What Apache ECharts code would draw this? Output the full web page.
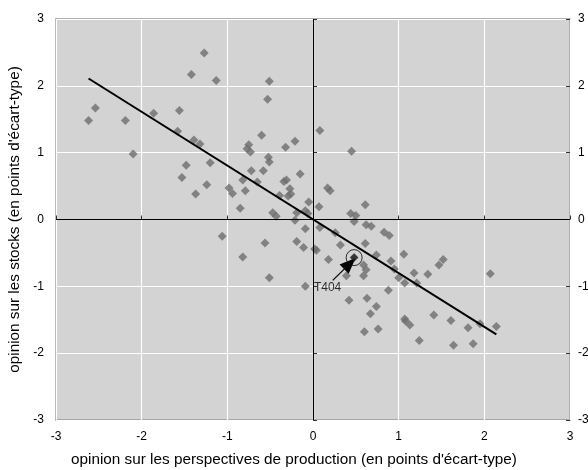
<!DOCTYPE html>
<html>
<head>
<meta charset="utf-8">
<script src="https://cdn.jsdelivr.net/npm/echarts@6/dist/echarts.min.js"></script>
<style>
html,body{margin:0;padding:0;background:#fff;}
#c{width:588px;height:470px;}
</style>
</head>
<body>
<div id="c"></div>
<script>
// Production outlook (x) vs stocks opinion (y), in standard-deviation points
const pointsX = [-2.62,-2.54,-2.19,-2.10,-1.86,-1.56,-1.58,-1.48,-1.53,-1.27,-1.42,-1.13,-0.51,-0.53,-1.39,-1.32,-0.60,-0.21,-0.32,-0.75,-0.77,-0.73,-0.52,-0.51,-1.20,-0.72,-0.58,0.08,-1.24,-1.37,-0.98,-0.94,-0.82,-0.65,-0.79,-0.85,-0.34,-0.31,-0.27,-0.39,-0.29,-0.26,-0.15,-0.05,-0.47,-0.43,-0.09,-0.06,-0.19,0.07,-0.21,-0.09,-1.06,-0.56,-0.19,-0.11,0.02,0.04,-0.82,-0.51,-0.09,0.45,0.17,0.20,0.61,0.44,0.50,0.48,0.62,0.68,0.08,0.26,0.83,0.89,0.32,0.18,0.61,0.48,0.59,0.62,0.59,0.39,0.74,0.91,0.95,1.00,1.06,1.07,0.88,1.18,1.21,1.34,1.47,1.52,2.07,0.42,0.63,0.74,0.67,0.76,0.60,1.07,1.08,1.13,1.24,1.41,1.61,1.81,1.95,2.14,1.64,1.87];
const pointsY = [1.48,1.67,1.48,0.98,1.59,1.63,1.32,0.81,0.63,2.49,2.17,2.08,2.07,1.80,1.19,1.13,1.26,1.17,1.08,1.12,1.06,1.01,0.93,0.86,0.85,0.73,0.73,1.33,0.52,0.38,0.47,0.39,0.59,0.56,0.43,0.17,0.57,0.59,0.46,0.36,0.35,0.38,0.68,0.26,0.10,0.05,0.13,0.09,0.10,0.19,-0.01,-0.14,-0.25,-0.35,-0.33,-0.42,-0.44,-0.46,-0.56,-0.87,-1.00,1.02,0.47,0.43,0.22,0.09,0.06,-0.03,-0.08,-0.10,-0.12,-0.20,-0.19,-0.24,-0.38,-0.60,-0.36,-0.57,-0.68,-0.75,-0.84,-0.84,-0.53,-0.62,-0.74,-0.87,-0.52,-0.95,-1.06,-0.80,-0.95,-0.82,-0.68,-0.60,-0.81,-1.21,-1.18,-1.30,-1.41,-1.64,-1.68,-1.49,-1.52,-1.58,-1.81,-1.43,-1.51,-1.62,-1.56,-1.60,-1.88,-1.86];
// Regression line end points
const fitX = [-2.62, 2.14];
const fitY = [2.11, -1.72];
// Highlighted observation and its annotation (data coordinates)
const highlightName = 'T404';
const highlightPoint = [0.48, -0.57];
const highlightLabelAt = [0.17, -1.02];
const arrowFrom = [0.23, -0.91];
const arrowTo = [0.43, -0.66];
// Axis ticks
const tickValues = [-3, -2, -1, 0, 1, 2, 3];

const FONT = "'Liberation Sans', Arial, sans-serif";
const scatterData = pointsX.map((x, i) => [x, pointsY[i]]);
const fitData = fitX.map((x, i) => [x, fitY[i]]);
const axMin = tickValues[0], axMax = tickValues[tickValues.length - 1];

const chart = echarts.init(document.getElementById('c'), null, {renderer: 'canvas'});
const commonAxis = {
  type: 'value', min: axMin, max: axMax, interval: 1,
  axisLine: {show: false},
  axisTick: {show: true, inside: true, length: 4, lineStyle: {color: '#333'}},
  splitLine: {show: true, lineStyle: {color: '#ffffff', width: 1.2}},
  axisLabel: {color: '#000', fontFamily: FONT, fontSize: 12}
};
chart.setOption({
  animation: false,
  backgroundColor: '#ffffff',
  grid: {left: 56, right: 18, top: 19, bottom: 50, show: true,
         containLabel: false, outerBoundsMode: 'none',
         backgroundColor: '#d3d3d3', borderColor: '#999999', borderWidth: 1.5},
  xAxis: Object.assign({}, commonAxis, {
    name: 'opinion sur les perspectives de production (en points d\'écart-type)',
    nameLocation: 'middle', nameGap: 32,
    nameTextStyle: {color: '#000', fontFamily: FONT, fontSize: 15.3, padding: [0, 38, 0, 0]},
    axisLabel: Object.assign({}, commonAxis.axisLabel, {margin: 11})
  }),
  yAxis: [
    Object.assign({}, commonAxis, {
      position: 'left',
      name: 'opinion sur les stocks (en points d\'écart-type)',
      nameLocation: 'middle', nameGap: 34,
      nameTextStyle: {color: '#000', fontFamily: FONT, fontSize: 15.3},
      axisLabel: Object.assign({}, commonAxis.axisLabel, {margin: 12})
    }),
    Object.assign({}, commonAxis, {
      position: 'right',
      splitLine: {show: false},
      axisLabel: Object.assign({}, commonAxis.axisLabel, {margin: 8})
    })
  ],
  series: [
    {
      type: 'scatter', data: scatterData, symbol: 'diamond', symbolSize: 9,
      itemStyle: {color: '#6e6e6e'}, silent: true, z: 3,
      markLine: {
        silent: true, symbol: 'none', animation: false,
        lineStyle: {color: '#000', width: 1, type: 'solid'},
        label: {show: false},
        data: [{xAxis: 0}, {yAxis: 0}]
      }
    },
    {
      type: 'line', data: fitData, showSymbol: false, symbol: 'none',
      lineStyle: {color: '#000', width: 2}, silent: true, z: 4
    },
    {
      type: 'scatter', data: [highlightPoint], symbol: 'circle', symbolSize: 16,
      itemStyle: {color: 'rgba(0,0,0,0)', borderColor: '#000', borderWidth: 1}, z: 5, silent: true
    },
    {
      type: 'scatter', data: [highlightPoint], symbol: 'diamond', symbolSize: 8,
      itemStyle: {color: '#222'}, z: 5, silent: true,
      markLine: {
        silent: true, animation: false,
        symbol: ['none', 'triangle'], symbolSize: [13, 16],
        lineStyle: {color: '#000', width: 1.2, type: 'solid'},
        label: {show: false},
        data: [[{coord: arrowFrom}, {coord: arrowTo}]]
      }
    },
    {
      type: 'scatter', data: [highlightLabelAt], symbolSize: 0, silent: true, z: 6,
      label: {show: true, position: 'inside', formatter: highlightName,
              color: '#000', fontFamily: FONT, fontSize: 12}
    }
  ]
});
</script>
</body>
</html>
